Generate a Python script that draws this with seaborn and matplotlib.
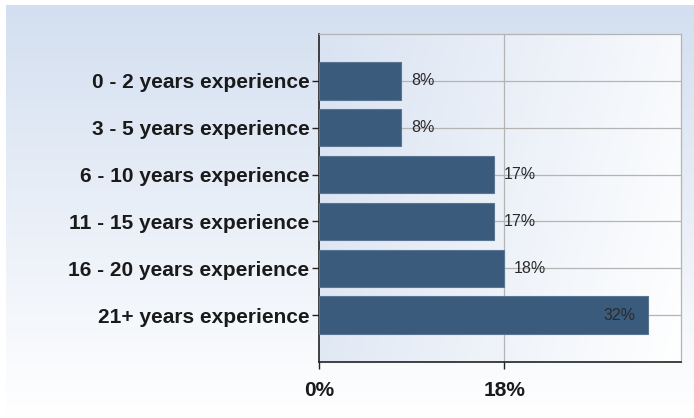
import numpy as np
import pandas as pd
import matplotlib
matplotlib.use("Agg")
import matplotlib.pyplot as plt
import seaborn as sns
from matplotlib.colors import LinearSegmentedColormap

# data
categories = ["0 - 2 years experience", "3 - 5 years experience",
              "6 - 10 years experience", "11 - 15 years experience",
              "16 - 20 years experience", "21+ years experience"]
percent = [8, 8, 17, 17, 18, 32]
x_ticks = [0, 18]
x_max = 35.2

df = pd.DataFrame({"experience": categories, "percent": percent})

sns.set_theme(style="white")
plt.rcParams["font.family"] = ["Liberation Sans", "DejaVu Sans"]

fig = plt.figure(figsize=(6.94, 4.18), dpi=100)
fig.patch.set_facecolor("white")

# figure background: vertical gradient light blue -> white
bg_ax = fig.add_axes([6 / 694, 0, 1 - 6 / 694, 1 - 5 / 418])
bg_cmap = LinearSegmentedColormap.from_list("bg", ["#d3dff0", "#ffffff"])
grad = np.linspace(0, 1, 256).reshape(-1, 1)
bg_ax.imshow(grad, aspect="auto", cmap=bg_cmap, extent=[0, 1, 0, 1], origin="upper")
bg_ax.set_axis_off()

ax = fig.add_axes([319 / 694, 56 / 418, 362 / 694, 328 / 418])
ax.set_facecolor("none")

sns.barplot(data=df, y="experience", x="percent", orient="h", order=categories,
            color="#3b5b7c", saturation=1, width=0.8, edgecolor="#5a7592",
            linewidth=0.8, ax=ax, zorder=3)

ax.set_xlim(0, x_max)
ax.set_ylim(len(categories), -1)

# plot-area gradient: light blue on the left -> white on the right
pa_cmap = LinearSegmentedColormap.from_list("pa", ["#d9e3f2", "#ffffff"])
xx, yy = np.meshgrid(np.linspace(0, 1, 256), np.linspace(0, 1, 64))
ax.imshow(0.8 * xx + 0.2 * yy, aspect="auto", cmap=pa_cmap,
          extent=[0, x_max, len(categories), -1], zorder=0)

# grid lines
for y in range(len(categories)):
    ax.axhline(y, color="#b4b4b4", linewidth=0.9, zorder=1)
for xt in x_ticks[1:]:
    ax.axvline(xt, color="#b4b4b4", linewidth=0.9, zorder=1)

# value labels
for i, v in enumerate(percent):
    if v == max(percent):
        ax.text(v - 1.2, i, f"{v}%", ha="right", va="center", fontsize=11.5,
                color="#2a2a2a", zorder=4)
    else:
        ax.text(v + 0.95, i, f"{v}%", ha="left", va="center", fontsize=11.5,
                color="#2a2a2a", zorder=4)

ax.set_xticks(x_ticks)
ax.set_xticklabels([f"{t}%" for t in x_ticks], fontsize=15, fontweight="bold",
                   color="#1a1a1a")
ax.set_yticks(range(len(categories)))
ax.set_yticklabels(categories, fontsize=15, fontweight="bold", color="#1a1a1a")
ax.set_xlabel("")
ax.set_ylabel("")

ax.tick_params(axis="both", which="major", direction="out", length=5, width=1,
               color="#222222", left=True, bottom=True, pad=2)
ax.tick_params(axis="x", pad=9)
ax.set_yticks([-1, len(categories)], minor=True)
ax.tick_params(axis="y", which="minor", direction="out", length=5, width=1,
               color="#222222")

for side in ["left", "bottom"]:
    ax.spines[side].set_visible(True)
    ax.spines[side].set_color("#222222")
    ax.spines[side].set_linewidth(1.2)
for side in ["top", "right"]:
    ax.spines[side].set_visible(True)
    ax.spines[side].set_color("#b4b4b4")
    ax.spines[side].set_linewidth(0.9)

fig.savefig("out.png", dpi=100)
